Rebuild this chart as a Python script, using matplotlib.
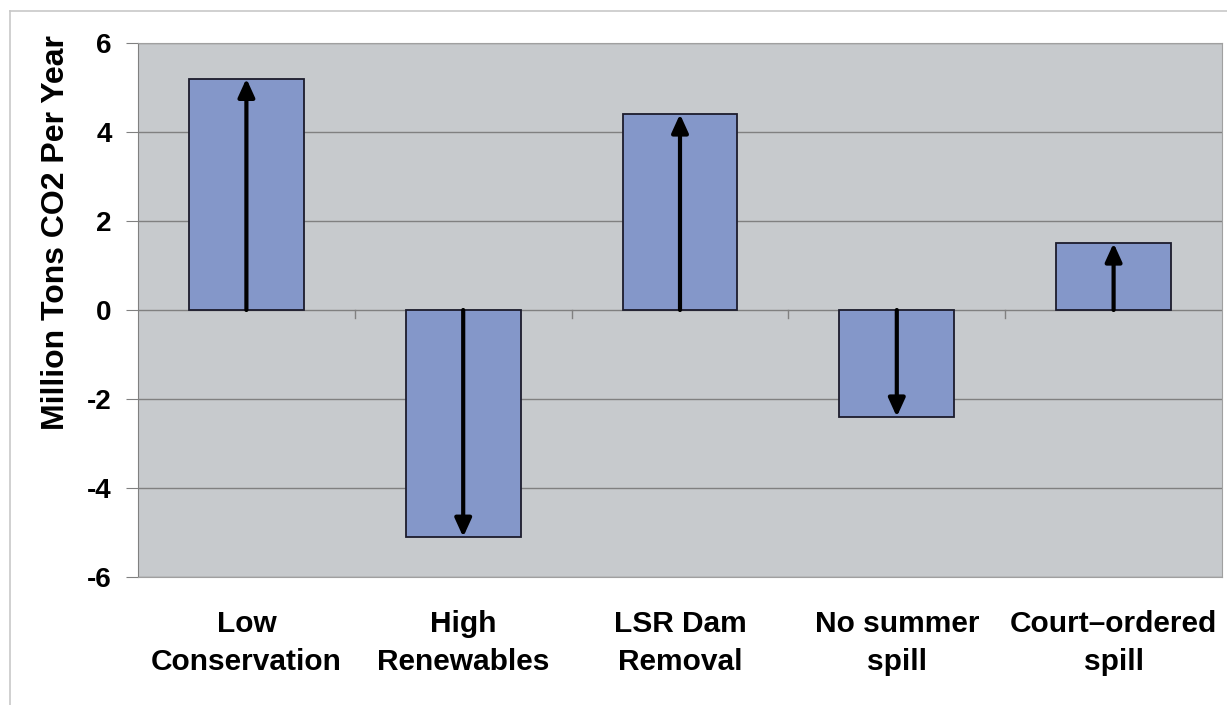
import matplotlib.pyplot as plt
from matplotlib.lines import Line2D

# Scenario data
scenarios = ["Low\nConservation", "High\nRenewables", "LSR Dam\nRemoval", "No summer\nspill", "Court\u2013ordered\nspill"]
co2_change = [5.2, -5.1, 4.4, -2.4, 1.5]
yticks = [-6, -4, -2, 0, 2, 4, 6]

plt.rcParams['font.family'] = ['Liberation Sans', 'DejaVu Sans']
plt.rcParams['font.weight'] = 'bold'

fig = plt.figure(figsize=(12.27, 7.05), dpi=100)
ax = fig.add_axes([138/1227, 1 - 577/705, (1222-138)/1227, (577-43)/705])

# outer light frame (top and left edges)
fig.add_artist(Line2D([10/1227, 1], [1 - 11/705, 1 - 11/705], transform=fig.transFigure, color='#c8c8c8', lw=1.2))
fig.add_artist(Line2D([10/1227, 10/1227], [0, 1 - 11/705], transform=fig.transFigure, color='#c8c8c8', lw=1.2))

ax.set_facecolor('#c7cacd')
x = list(range(len(scenarios)))
ax.bar(x, co2_change, width=0.53, color='#8497c9', edgecolor='#1c1c2c', linewidth=1.3, zorder=3)

# arrows showing direction of change
for xi, v in zip(x, co2_change):
    ax.annotate('', xy=(xi, v), xytext=(xi, 0),
                arrowprops=dict(arrowstyle='-|>,head_length=0.55,head_width=0.25', color='black', lw=3.0,
                                mutation_scale=20, shrinkA=0, shrinkB=0),
                zorder=4)

ax.set_xlim(-0.5, len(scenarios) - 0.5)
ax.set_ylim(-6, 6)
ax.set_yticks(yticks)
ax.set_yticklabels([str(t) for t in yticks], fontsize=20, fontweight='bold')
ax.yaxis.grid(True, color='#808080', lw=1.0, zorder=1)
ax.set_axisbelow(True)
ax.tick_params(axis='y', length=9, color='#808080', pad=10)

ax.set_xticks(x)
ax.set_xticklabels(scenarios, fontsize=21.5, fontweight='bold', linespacing=1.42)
ax.tick_params(axis='x', length=0, pad=24)

# category separator ticks on the zero line
for b in [0.5, 1.5, 2.5, 3.5]:
    ax.plot([b, b], [0, -0.17], color='#808080', lw=1.0, zorder=2)

for side in ['top', 'right']:
    ax.spines[side].set_color('#a0a0a0')
ax.spines['left'].set_color('#808080')
ax.spines['bottom'].set_color('#a0a0a0')

ax.set_ylabel('Million Tons CO2 Per Year', fontsize=23, fontweight='bold')
ax.yaxis.set_label_coords(-0.062, 0.645)

fig.savefig('out.png', dpi=100)
